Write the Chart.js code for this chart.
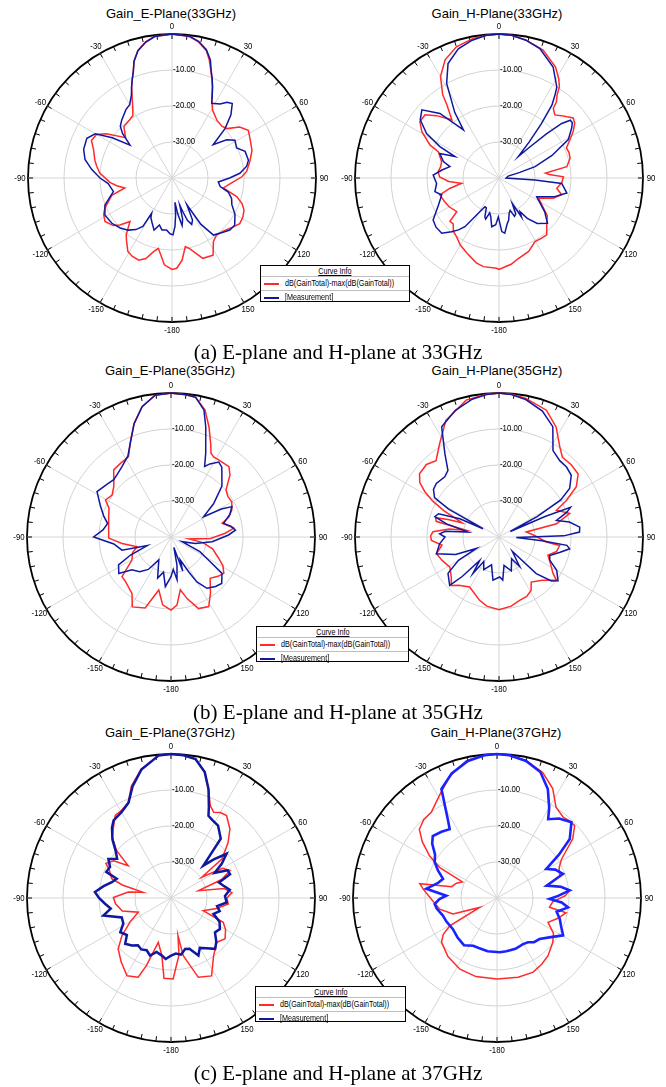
<!DOCTYPE html>
<html>
<head>
<meta charset="utf-8">
<script src="https://cdn.jsdelivr.net/npm/chart.js@4/dist/chart.umd.min.js"></script>
<style>
  html, body { margin: 0; padding: 0; background: #fff; }
  body { position: relative; width: 666px; height: 1087px; overflow: hidden;
         font-family: "Liberation Sans", Arial, sans-serif; color: #000; }
  canvas.plot { position: absolute; }
  .title { position: absolute; font-size: 13px; line-height: 1; white-space: nowrap;
           transform: translate(-50%, -50%); }
  .caption { position: absolute; font-family: "Liberation Serif", "Times New Roman", serif;
             font-size: 21px; line-height: 1; white-space: nowrap; transform: translate(-50%, -50%); }
  .legend { position: absolute; background: #fff; border: 1.5px solid #000; box-sizing: border-box;
            font-family: "Liberation Sans", Arial, sans-serif; font-size: 8.6px; z-index: 5; }
  .legend .hd { height: 10px; line-height: 10px; text-align: center; border-bottom: 1px solid #bdbdbd; }
  .legend .hd span { display: inline-block; transform: scaleX(0.84); text-decoration: underline; }
  .legend .row { position: relative; height: 12px; line-height: 12px; padding-left: 24px; white-space: nowrap;
                 border-bottom: 1px solid #bdbdbd; }
  .legend .row.first { height: 13px; line-height: 13px; }
  .legend .row:last-child { border-bottom: none; }
  .legend .row .txt { display: inline-block; transform: scaleX(0.84); transform-origin: 0 50%; }
  .legend .sw { position: absolute; left: 3px; top: 6px; width: 15px; height: 2px; }
</style>
</head>
<body>

<div class="title" style="left:171px;top:13px">Gain_E-Plane(33GHz)</div>
<div class="title" style="left:497px;top:13px">Gain_H-Plane(33GHz)</div>
<div class="title" style="left:170px;top:370px">Gain_E-Plane(35GHz)</div>
<div class="title" style="left:497px;top:370px">Gain_H-Plane(35GHz)</div>
<div class="title" style="left:170px;top:732px">Gain_E-Plane(37GHz)</div>
<div class="title" style="left:496px;top:732px">Gain_H-Plane(37GHz)</div>

<canvas class="plot" id="e33" width="330" height="330" style="left:7px;top:13px"></canvas>
<canvas class="plot" id="h33" width="330" height="330" style="left:334px;top:13px"></canvas>
<canvas class="plot" id="e35" width="330" height="330" style="left:6px;top:372px"></canvas>
<canvas class="plot" id="h35" width="330" height="330" style="left:334px;top:372px"></canvas>
<canvas class="plot" id="e37" width="330" height="330" style="left:6px;top:733px"></canvas>
<canvas class="plot" id="h37" width="330" height="330" style="left:332px;top:733px"></canvas>

<div class="legend" style="left:260px;top:265px;width:150px;height:37px">
  <div class="hd"><span>Curve Info</span></div>
  <div class="row first"><span class="sw" style="background:#ff2a2a"></span><span class="txt">dB(GainTotal)-max(dB(GainTotal))</span></div>
  <div class="row"><span class="sw" style="background:#1018a0"></span><span class="txt">[Measurement]</span></div>
</div>
<div class="legend" style="left:256px;top:626px;width:153px;height:36px">
  <div class="hd"><span>Curve Info</span></div>
  <div class="row first"><span class="sw" style="background:#ff2a2a"></span><span class="txt">dB(GainTotal)-max(dB(GainTotal))</span></div>
  <div class="row"><span class="sw" style="background:#1018a0"></span><span class="txt">[Measurement]</span></div>
</div>
<div class="legend" style="left:255px;top:986px;width:151px;height:36px">
  <div class="hd"><span>Curve Info</span></div>
  <div class="row first"><span class="sw" style="background:#ff2a2a"></span><span class="txt">dB(GainTotal)-max(dB(GainTotal))</span></div>
  <div class="row"><span class="sw" style="background:#1018a0"></span><span class="txt">[Measurement]</span></div>
</div>

<div class="caption" style="left:338px;top:352px">(a) E-plane and H-plane at 33GHz</div>
<div class="caption" style="left:338px;top:712px">(b) E-plane and H-plane at 35GHz</div>
<div class="caption" style="left:338px;top:1073px">(c) E-plane and H-plane at 37GHz</div>

<script>
// Angle labels round the rim (degrees, clockwise from the top) and ring labels (dB)
const angleLabels = [0, 30, 60, 90, 120, 150, -180, -150, -120, -90, -60, -30];
const ringValues = [-10, -20, -30];
const ringLabels = ['-10.00', '-20.00', '-30.00'];
const seriesNames = ['dB(GainTotal)-max(dB(GainTotal))', '[Measurement]'];

// Pattern samples: [angle in degrees, normalised gain in dB]
const e33Sim = [[-180,-14.6],[-175,-15.8],[-169,-20.1],[-166,-18.9],[-162,-16.5],[-158,-15.4],[-153,-15.6],[-149,-16.2],[-144,-18.5],[-141,-19.8],[-136,-23.2],[-132,-20.5],[-129,-19],[-123,-17.8],[-118,-18.5],[-114,-19.6],[-106,-22.6],[-102,-26.6],[-98,-24.5],[-94,-22.7],[-86,-19.9],[-81,-18.8],[-77,-18],[-70,-16.8],[-65,-15.3],[-60,-15.8],[-56,-18],[-49,-22.9],[-43,-20.4],[-36,-20],[-32,-19.5],[-29,-17.5],[-27,-15.7],[-24,-12.4],[-22,-10.5],[-20,-8.5],[-18,-5.9],[-15,-3.4],[-11,-1.5],[-7,-0.4],[0,0],[7,-0.4],[11,-1.5],[15,-3.3],[17.5,-5.6],[20,-8.4],[22,-10.4],[24,-12.4],[27,-15.7],[31,-18.1],[38,-19.7],[44,-20],[48,-19.5],[53,-16.5],[58,-15],[63,-15.7],[71,-16.5],[78,-17.9],[85,-19.2],[89,-20.6],[95,-23.5],[101,-25.5],[106,-21.3],[110,-19.3],[114,-18.1],[119,-17.5],[124,-17.3],[129,-18.3],[136,-19.5],[142,-19.9],[147,-18.9],[152,-15.7],[159,-16.1],[166,-19.8],[169,-20.6],[173,-17],[177,-14.9]];
const e33Meas = [[-178,-24.5],[-174,-25.5],[-169,-25.3],[-165,-26.5],[-161,-24.7],[-156,-26.4],[-152,-27.5],[-150,-28.7],[-149,-24.3],[-145,-22.5],[-140,-21.1],[-134,-20],[-127,-19.1],[-119,-18.7],[-112,-19.9],[-107,-22],[-103,-23.3],[-99,-22.8],[-95,-22.2],[-90,-20],[-84,-17.6],[-78,-15.3],[-72,-14.2],[-65,-13.9],[-60,-15.4],[-56,-20],[-52,-25.2],[-48,-21.5],[-45,-19.7],[-41,-18.7],[-34,-17.1],[-30,-16.5],[-26,-14.3],[-24,-12.4],[-22,-10.5],[-20,-8.6],[-18,-5.9],[-15,-3.4],[-11,-1.6],[-7,-0.4],[0,0],[7,-0.3],[11,-1.3],[15,-3.1],[18,-5.5],[20,-8.2],[22,-10.2],[24,-12.3],[26,-14.5],[28,-16.5],[33,-15.5],[36,-14],[39,-13.4],[43,-16],[47,-19.8],[51,-25.3],[55,-21.5],[59,-19.6],[65,-20.2],[70,-18.4],[77,-18.2],[81,-19],[86,-21.1],[90,-24],[95,-27.1],[100,-26.4],[104,-23.9],[109,-22.5],[114,-21.8],[120,-19.8],[127,-18.2],[132,-18.4],[138,-19.5],[144,-20.4],[148,-24.8],[151,-31.5],[154,-27],[157,-26],[160,-27.5],[162,-30],[164,-32.2],[165.5,-28.2],[168,-26.5],[171,-30],[173,-33.2],[174.5,-29.6],[176.5,-26.5],[179,-24.2]];

const h33Sim = [[0,0],[5,-0.2],[11,-0.9],[19,-2.4],[27,-5.4],[31,-7.8],[33.5,-9.6],[35,-11.9],[37,-13.5],[38,-15.5],[41.5,-16.6],[45,-15.5],[48,-14.6],[51,-13.5],[54,-14],[58,-15.7],[62,-17.8],[66,-19.5],[70,-19.3],[74.5,-19.5],[80.5,-20.9],[84,-27],[86,-26],[89,-22.1],[94,-22.5],[100,-23.7],[105,-22],[110.5,-23.9],[117,-27.7],[122,-26],[128,-23],[134.5,-21.4],[140,-19.4],[145,-19.5],[150.5,-19.7],[158,-18],[166.5,-17],[172,-15.8],[176,-15.3],[180,-14.6],[-178.5,-14.9],[-170,-15],[-165,-15.6],[-157,-17.3],[-150,-18.5],[-144.5,-19.8],[-139.5,-20.5],[-135,-22],[-131.5,-21.8],[-128.5,-25],[-120,-24],[-113,-23.5],[-106,-22.9],[-102,-26],[-98,-29.5],[-94,-26],[-89,-23.5],[-84,-23],[-79,-23.5],[-74,-23.4],[-66.5,-21.6],[-64.5,-18.8],[-59,-15],[-54.5,-13],[-49.5,-13],[-45,-15.5],[-39,-19.2],[-35.5,-15.1],[-34,-12],[-30,-7.5],[-24.5,-3.9],[-18,-1.7],[-10.5,-0.55],[-5,-0.2]];
const h33Meas = [[0,0],[5,-0.2],[11,-1],[17.5,-2.3],[26,-5.7],[32.5,-10.1],[34,-12.2],[36,-15],[38,-21],[40,-27],[42,-32],[44.5,-28.4],[47,-22],[49,-16.9],[51,-14.5],[53,-14.5],[55.5,-15.5],[61,-18],[67,-24],[72.5,-29.5],[75,-34],[78,-37.4],[90,-38],[93,-30],[95,-22.5],[102.5,-20.7],[109,-23.9],[116.5,-28.3],[126.5,-24.2],[133,-21.6],[140,-23.5],[145,-26.3],[148,-29],[150,-27.5],[152.5,-32],[155,-29],[158,-28.5],[161,-30.5],[164,-29.8],[167,-28],[170,-27],[174,-24.6],[177,-25.1],[-179,-29.2],[-176,-27],[-171.5,-26.3],[-168,-29],[-165,-30],[-162,-28],[-160,-28.5],[-157,-31],[-154,-31.1],[-150.5,-29.3],[-145,-23.5],[-142,-21.7],[-138.5,-20.1],[-134,-17.9],[-128,-17.8],[-122.5,-18.3],[-114,-21.6],[-106.5,-23.4],[-102,-21.8],[-95,-22.6],[-87.5,-21.7],[-82,-24],[-77,-26],[-73.5,-23.9],[-67.5,-22.2],[-64,-26.4],[-62,-21.4],[-58.5,-16.4],[-53.5,-12.8],[-48.5,-11.4],[-42.5,-15.7],[-36.5,-23.4],[-34,-18],[-31.5,-14.7],[-29,-10],[-24,-5.2],[-17.5,-2.4],[-11,-1],[-5,-0.2]];

const e35Sim = [[0,0],[6,-0.3],[10,-0.6],[15,-3.5],[19,-7.6],[23,-11.8],[25.5,-14.2],[28,-14.8],[32,-14.8],[39.5,-14.7],[43.5,-16.2],[49.5,-19.9],[54.5,-20.6],[60,-20.5],[66,-21.5],[71,-23],[75,-25.3],[82,-22.4],[86,-24.9],[92,-29],[96,-35],[100,-31],[106,-28],[114,-25.5],[119,-23.5],[124.5,-22.2],[130,-23],[136.5,-24.2],[145,-20.9],[151.5,-18],[159,-18.7],[165.5,-22.4],[170,-25.1],[175,-21],[180,-19.7],[-173,-21],[-167,-24.9],[-160,-19],[-151,-17.8],[-145.5,-20.9],[-134.5,-22.3],[-129,-22.5],[-120.5,-27.4],[-112,-28.5],[-106,-30.2],[-97.5,-26.3],[-91,-22.7],[-82,-22.5],[-72,-21.8],[-65,-21],[-60.5,-19.1],[-54.5,-19.9],[-48.5,-18.8],[-40.5,-15.5],[-34.5,-15.2],[-28,-14.8],[-22.5,-10.8],[-18,-6.8],[-12.5,-2.9],[-6.5,-0.4]];
const e35Meas = [[0,0],[6,-0.3],[10,-0.6],[14.5,-3.5],[17.5,-7.9],[22.5,-14.8],[25.5,-18.3],[28,-17],[32.5,-15.3],[36,-16],[38.5,-17.3],[45,-20],[52,-25],[58,-29.3],[61,-24],[63.5,-21.1],[69,-22.5],[75.5,-24.9],[80,-23],[84,-22],[88,-24],[96.5,-28.5],[105,-33],[113,-36.7],[117,-31],[121.5,-27.8],[125.5,-22.6],[132.5,-20.9],[138,-21.5],[145,-22.6],[150,-25.6],[153,-29],[158,-33.1],[161,-30],[164.5,-37],[168,-32],[172,-28],[176,-31],[180,-29],[-173.5,-26.1],[-168,-30],[-162,-28],[-157,-31],[-152,-32.8],[-145,-29],[-138,-27],[-130,-25.8],[-125,-22.3],[-118,-23.5],[-114,-27.7],[-110,-33],[-105,-25.9],[-97,-24],[-90,-18.5],[-84,-21],[-78,-22],[-73,-20.5],[-66,-18.5],[-58.5,-15.9],[-50,-17],[-45,-17.5],[-41,-17.1],[-35,-16.2],[-28,-14.5],[-23.5,-11.6],[-18,-6.9],[-12.5,-2.9],[-6.5,-0.4]];

const h35Sim = [[0,0],[5,-0.2],[11,-0.8],[20.5,-2.4],[27.5,-5.6],[34,-9.8],[38.5,-11.7],[45,-11.6],[51.5,-11.9],[57,-14.4],[61.5,-18.7],[65,-22.4],[71.5,-19.3],[77,-23.6],[79.5,-32.3],[88,-30],[96,-26.8],[98,-23],[104,-23.5],[110.5,-25.5],[117,-24],[124,-21.9],[127,-20],[135,-23],[144.5,-24.6],[149,-22.7],[155,-21.8],[162,-21.5],[170,-20.5],[180,-19.8],[-170,-20.5],[-163,-21.6],[-149.5,-23.9],[-140,-22.5],[-135.5,-21.1],[-130,-22.7],[-121.5,-24],[-113,-23],[-105,-22],[-98,-24],[-93,-21.2],[-89,-21],[-85.5,-21.6],[-81,-26],[-78.5,-30.7],[-76,-22],[-73,-21.6],[-71,-25],[-69,-29],[-67,-27],[-64.5,-23],[-61.5,-19],[-58.5,-15.8],[-55.5,-13.3],[-51.5,-11.8],[-45,-11.5],[-39.5,-12.5],[-32.5,-9.3],[-24.5,-4.4],[-13.5,-0.9],[-5,-0.2]];
const h35Meas = [[0,0],[5,-0.3],[11,-1.1],[19,-3],[26,-5.9],[32,-11.7],[38.5,-12.9],[44,-13],[49.5,-13.6],[55.5,-16.2],[59,-20],[62,-28],[64,-36.5],[66,-26],[67.5,-18.5],[70,-20],[74,-23.4],[78,-20],[83,-17.4],[86.5,-17.6],[89,-22],[92,-35.2],[95,-28],[97,-21],[99.5,-20.1],[104,-22.5],[110,-25],[114.5,-24.5],[120,-21.5],[126.5,-19.6],[130,-21],[134.5,-25.5],[137,-34.6],[145,-30],[150,-33],[160,-30],[170,-32],[175,-28],[179,-28.9],[-172,-27.9],[-165,-32],[-155,-30],[-148,-32],[-144.5,-27.5],[-140.5,-31.6],[-137,-25],[-134.5,-20.8],[-125.5,-22.6],[-120,-27],[-117,-33],[-112,-27],[-105,-22],[-96.5,-23.4],[-90,-25],[-87,-23.5],[-84,-25],[-81,-31.3],[-76,-25],[-72.5,-21.3],[-69,-22],[-65,-28],[-62.5,-35],[-61,-24],[-58.5,-19],[-54,-17.5],[-49.5,-17.1],[-42,-17.5],[-37.5,-16.7],[-33,-12.4],[-27.5,-5.5],[-19,-2.8],[-11,-1],[-5,-0.3]];

const e37Sim = [[0,0],[5,-0.2],[10,-0.8],[15,-3.8],[19,-8],[23,-12.1],[26.5,-13.4],[30,-12.6],[34,-12.4],[40.5,-14.8],[46,-18],[52.5,-22.2],[56,-29.7],[60,-23.5],[65,-21.9],[70,-25],[75,-32.1],[80,-25],[85,-23],[90,-24.5],[96,-24],[103,-27],[111.5,-30.4],[115,-24],[120,-22.5],[127,-21.2],[134,-22.3],[143.5,-20.1],[152.5,-15.6],[161,-16.7],[168,-23.6],[169.5,-29.4],[172,-24],[178.5,-17.5],[-175,-17.6],[-171,-23.8],[-164,-27.2],[-160,-20],[-157.5,-16.2],[-150.5,-15.2],[-142,-17.5],[-134,-19.6],[-127.5,-22.8],[-120,-27],[-113.5,-30.1],[-105,-26],[-96,-24.5],[-89.5,-24],[-82,-28],[-78.5,-32.1],[-75,-26],[-72,-22.7],[-65,-21],[-62,-19.5],[-57,-21],[-53,-25.1],[-49,-20],[-44,-16.5],[-40,-15],[-34,-12.3],[-29,-12],[-24,-10.9],[-19.5,-7],[-13,-3.3],[-5,-0.3]];
const e37Meas = [[0,0],[5,-0.2],[10,-0.8],[15,-3.8],[19,-8],[22.5,-12.5],[24.5,-14.9],[28,-15.5],[33,-16],[40,-18.5],[45,-27.3],[48,-24],[51.5,-20.3],[56,-23],[60,-26],[64,-22.5],[68,-22.3],[72,-26],[76.5,-25.1],[82,-23.5],[88,-25],[94.5,-24.5],[100,-27],[105,-26],[110.5,-27.4],[116,-25],[122.5,-23.9],[128,-24.5],[134,-22.5],[139,-21.3],[145,-23],[150,-24],[154.5,-22.3],[160,-25],[164.5,-25.3],[170,-24],[175,-24.5],[180,-24],[-175,-23],[-171,-23.8],[-165,-24.5],[-160,-23],[-155,-24],[-150,-23.5],[-145,-24],[-140.5,-22.9],[-135,-22],[-130,-24],[-124,-23],[-118,-25],[-111.5,-25.3],[-104.5,-20.6],[-100,-23],[-95,-21.6],[-90,-20],[-85.5,-18.8],[-80,-21],[-75,-23],[-70.5,-24],[-68,-20.6],[-63,-21],[-58,-19.5],[-54,-21.5],[-50,-20],[-45,-17],[-40,-14.5],[-36.5,-13.2],[-30,-12.5],[-24,-11],[-19,-7.2],[-13,-3.4],[-5,-0.3]];

const h37Sim = [[0,0],[5,-0.2],[12,-1],[20,-2.9],[27,-5.9],[33,-9.9],[39.5,-11],[43,-10.6],[47,-10.5],[52,-13.3],[59,-19.1],[64,-20.8],[70.5,-21.5],[76,-25.9],[80,-22],[84,-19.7],[88,-21],[94,-24.5],[100,-25.2],[102,-20.4],[108,-22],[115.5,-24.3],[122,-21.5],[128.5,-20.2],[138.5,-18.6],[146,-17.8],[154,-17.1],[165,-17.2],[180,-17.5],[-165,-17.4],[-152.5,-17.7],[-140,-18.8],[-128.5,-20.3],[-124,-22],[-120.5,-24.8],[-118.5,-34.5],[-110,-27],[-101,-23.8],[-92,-22],[-83,-19.3],[-79.5,-18.2],[-76,-27],[-70,-28],[-65,-29.4],[-62,-22],[-58,-17.9],[-53,-14],[-48.5,-11.2],[-43,-10.2],[-37.5,-10],[-29.5,-7.4],[-21,-3.6],[-12.5,-0.9],[-5,-0.2]];
const h37Meas = [[0,0],[5,-0.2],[12,-1.1],[19,-3],[25,-6.6],[30,-11],[33,-13.9],[38,-12],[44.5,-10.5],[51,-14],[55,-19],[59.5,-24.1],[64,-22],[70,-20.5],[76,-25.8],[80,-22],[84,-19.7],[88,-23],[91,-25.4],[94,-22],[97.5,-20.1],[103,-23],[108.5,-21.6],[114,-20.5],[119.5,-18.9],[126,-21.5],[134,-23.6],[140,-24],[145,-25],[150.5,-25.3],[160,-25],[170,-25],[177,-24.9],[-170,-25],[-160,-25.2],[-153.5,-25.2],[-145,-24],[-135,-24.5],[-125,-25],[-115,-24.5],[-108,-24.2],[-100,-23],[-95.5,-22.6],[-91,-24],[-87.5,-25.9],[-82.5,-20.2],[-76,-23],[-70.5,-24.1],[-65,-21.9],[-60,-20],[-55,-19],[-50,-16.5],[-46,-15.2],[-40,-16],[-34.5,-16.8],[-32,-14.2],[-27,-6],[-20,-3.2],[-12,-1.1],[-5,-0.2]];

// Radar scale runs clockwise from the top; one category every half degree.
const STEPS = 720;
const angleSteps = Array.from({length: STEPS}, (_, i) => i / 2);
function toRadar(pairs) {
  const arr = new Array(STEPS).fill(null);
  pairs.forEach(([a, v]) => {
    const idx = ((Math.round(a * 2) % STEPS) + STEPS) % STEPS;
    arr[idx] = v;
  });
  return arr;
}

const RED = '#ff2a2a';
const NAVY = '#1018a0';
const BRIGHT_BLUE = '#1a22ff';
const LABEL_FONT = '9.5px "Liberation Sans", Arial, sans-serif';
const CONDENSE = 0.82;

function condensedText(ctx, text, x, y, align) {
  ctx.save();
  ctx.translate(x, y);
  ctx.scale(CONDENSE, 1);
  ctx.textAlign = align;
  ctx.fillText(text, 0, 0);
  ctx.restore();
}

// Rim tick marks, angle labels and ring labels, placed through the radial scale
const polarDecor = {
  id: 'polarDecor',
  beforeDatasetsDraw(chart) {
    const s = chart.scales.r;
    const ctx = chart.ctx;
    const R = s.drawingArea;
    ctx.save();
    ctx.strokeStyle = '#000';
    ctx.lineWidth = 1;
    for (let a = 0; a < 360; a += 6) {
      const p0 = s.getPointPosition(a * 2, R - 5);
      const p1 = s.getPointPosition(a * 2, R);
      ctx.beginPath();
      ctx.moveTo(p0.x, p0.y);
      ctx.lineTo(p1.x, p1.y);
      ctx.stroke();
    }
    ctx.fillStyle = '#000';
    ctx.font = LABEL_FONT;
    ctx.textBaseline = 'middle';
    angleLabels.forEach(a => {
      const idx = ((a + 360) % 360) * 2;
      const p = s.getPointPosition(idx, R + 8);
      condensedText(ctx, String(a), p.x, p.y, 'center');
    });
    ringValues.forEach((v, i) => {
      const y = s.yCenter - s.getDistanceFromCenterForValue(v) - 1;
      condensedText(ctx, ringLabels[i], s.xCenter + 1, y, 'left');
    });
    ctx.restore();
  }
};

function makePlot(id, sim, meas, blueColor, blueWidth) {
  return new Chart(document.getElementById(id), {
    type: 'radar',
    data: {
      labels: angleSteps,
      datasets: [
        { label: seriesNames[0], data: toRadar(sim), order: 1, borderColor: RED, borderWidth: 1.5,
          pointRadius: 0, fill: false, spanGaps: true, tension: 0 },
        { label: seriesNames[1], data: toRadar(meas), order: 0, borderColor: blueColor, borderWidth: blueWidth,
          pointRadius: 0, fill: false, spanGaps: true, tension: 0 }
      ]
    },
    options: {
      responsive: false,
      animation: false,
      events: [],
      layout: { padding: 21 },
      plugins: { legend: { display: false }, tooltip: { enabled: false } },
      scales: {
        r: {
          min: -40, max: 0, startAngle: 0,
          ticks: { display: false, stepSize: 10 },
          grid: {
            circular: true,
            color: c => (c.tick && c.tick.value === 0) ? '#000' : '#d2d2d2',
            lineWidth: c => (c.tick && c.tick.value === 0) ? 1.8 : 1
          },
          angleLines: {
            color: c => (c.index % 60 === 0) ? '#d6d6d6' : 'rgba(0,0,0,0)',
            lineWidth: c => (c.index % 60 === 0) ? 1 : 0
          },
          pointLabels: { display: false }
        }
      }
    },
    plugins: [polarDecor]
  });
}

makePlot('e33', e33Sim, e33Meas, NAVY, 1.5);
makePlot('h33', h33Sim, h33Meas, NAVY, 1.5);
makePlot('e35', e35Sim, e35Meas, NAVY, 1.5);
makePlot('h35', h35Sim, h35Meas, NAVY, 1.5);
makePlot('e37', e37Sim, e37Meas, NAVY, 2.5);
makePlot('h37', h37Sim, h37Meas, BRIGHT_BLUE, 2.6);
</script>
</body>
</html>
